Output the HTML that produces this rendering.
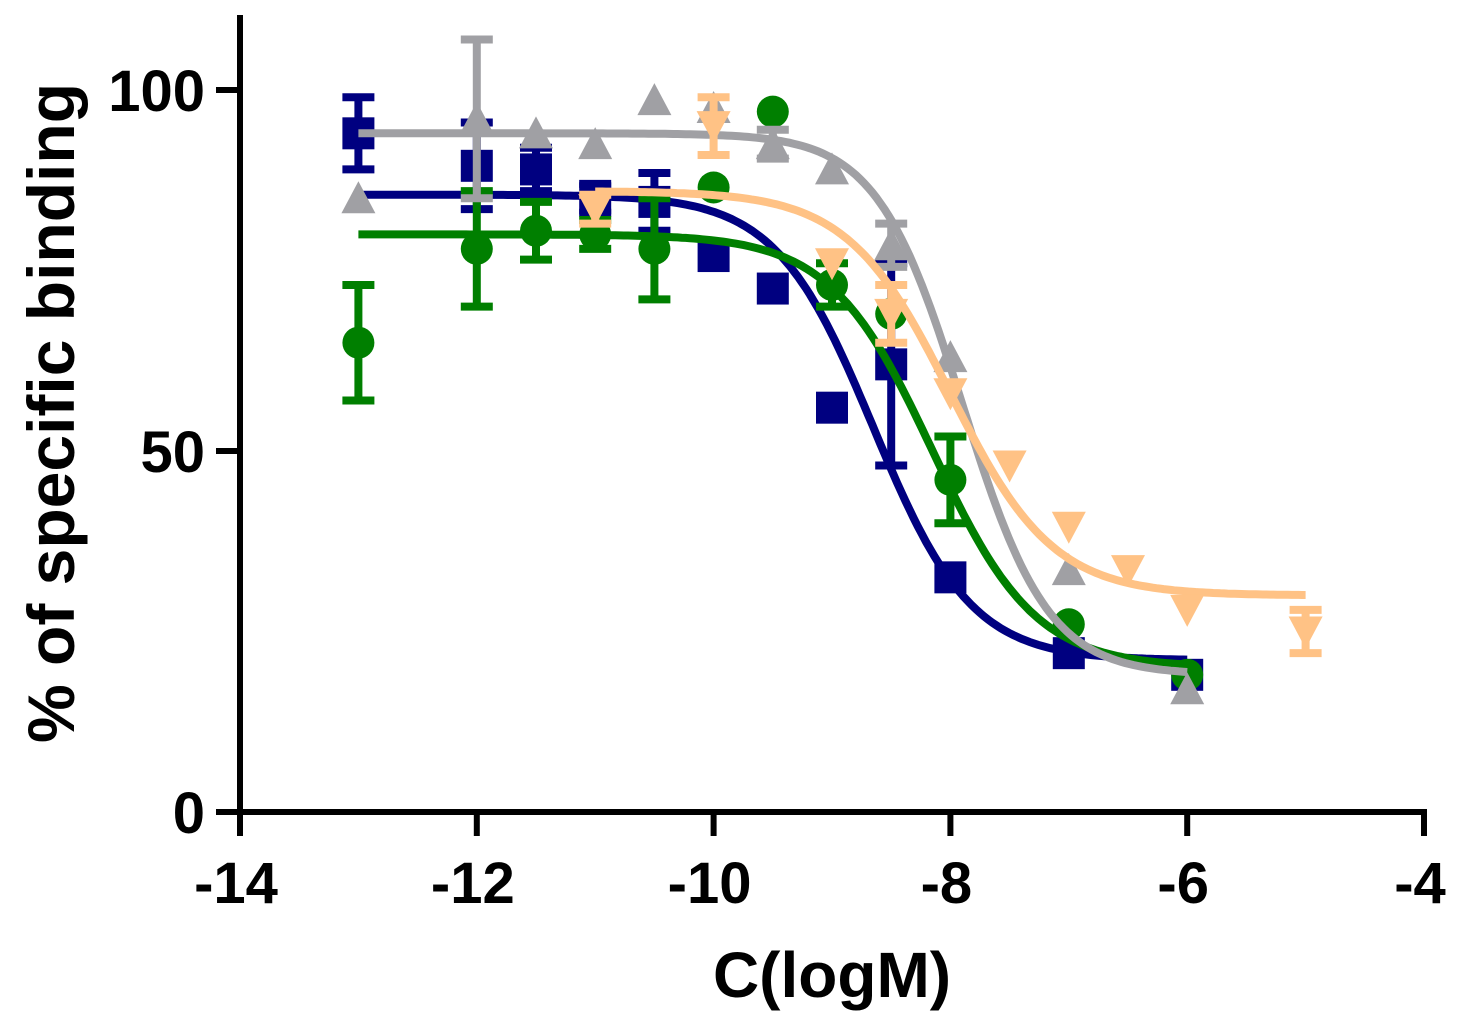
<!DOCTYPE html>
<html><head><meta charset="utf-8"><style>
html,body{margin:0;padding:0;background:#fff;}
svg{display:block;font-family:"Liberation Sans",Arial,sans-serif;font-weight:bold;}
</style></head><body>
<svg id="chart" width="1471" height="1024" viewBox="0 0 1471 1024" xmlns="http://www.w3.org/2000/svg">
<g id="plot"></g>
<g id="axes"></g>
</svg>
<script>
const xTicks = [-14, -12, -10, -8, -6, -4];
const yTicks = [0, 50, 100];

const navyX = [-13, -12, -11.5, -11, -10.5, -10, -9.5, -9, -8.5, -8, -7, -6];
const navyY = [94, 89.5, 89, 85, 84.5, 77, 72.5, 56, 62, 32.5, 22, 19];
const navyErr = [5, 6, 3, 2, 4, 0, 0, 0, 14, 0, 0, 0];
const navyFit = [85.5, 21, -8.65, 1.05]; // top, bottom, logIC50, hill

const greenX = [-13, -12, -11.5, -11, -10.5, -10, -9.5, -9, -8.5, -8, -7, -6];
const greenY = [65, 78, 80.5, 80, 78, 86.5, 97, 73, 69, 46, 26, 19];
const greenErr = [8, 8, 4, 2, 7, 0, 0, 3, 0, 6, 0, 0];
const greenFit = [80, 20, -8.15, 1.0];

const grayX = [-13, -12, -11.5, -11, -10.5, -10, -9.5, -9, -8.5, -8, -7, -6];
const grayY = [85, 96, 94, 92.5, 98.6, 97.5, 92.5, 89, 78.5, 63, 33.5, 17];
const grayErr = [0, 11, 0, 0, 0, 0, 2, 0, 3, 0, 0, 0];
const grayFit = [94, 19, -7.9, 1.2];

const peachX = [-11, -10, -9, -8.5, -8, -7.5, -7, -6.5, -6, -5];
const peachY = [83.5, 95, 76, 69, 58, 48, 39.5, 33.5, 28, 25];
const peachErr = [2, 4, 0, 4, 0, 0, 0, 0, 0, 3];
const peachFit = [86, 30, -8.0, 1.0];

const X0 = 240, X1 = 1424, Y0 = 812, Y1 = 90;
function sx(v){ return X0 + (v - (-14)) / 10 * (X1 - X0); }
function sy(v){ return Y0 - v / 100 * (Y0 - Y1); }
const NS = "http://www.w3.org/2000/svg";
function mk(tag, attrs, parent){
  const e = document.createElementNS(NS, tag);
  for (const k in attrs) e.setAttribute(k, attrs[k]);
  parent.appendChild(e); return e;
}
const plot = document.getElementById('plot');
const axes = document.getElementById('axes');

function sig(p, x){ return p[1] + (p[0]-p[1]) / (1 + Math.pow(10, (x - p[2]) * p[3])); }

function series(name, color, xs, ys, errs, fit, x0, x1, shape){
  const g = mk('g', {}, plot);
  
  
  let d = '';
  for (let i = 0; i <= 200; i++){
    const x = x0 + (x1 - x0) * i / 200;
    d += (i ? 'L' : 'M') + sx(x).toFixed(1) + ',' + sy(sig(fit, x)).toFixed(1);
  }
  const c = mk('path', {d: d, fill: 'none', stroke: color, 'stroke-width': 8}, g);
  
  
  for (let i = 0; i < xs.length; i++){
    const cx = sx(xs[i]), cy = sy(ys[i]);
    if (errs[i] > 0){
      const t = sy(ys[i] + errs[i]), b = sy(ys[i] - errs[i]);
      const eb = mk('path', {d: `M${cx},${t}V${b}M${cx-16},${t}H${cx+16}M${cx-16},${b}H${cx+16}`, stroke: color, 'stroke-width': 8, fill: 'none'}, g);
      
      
    }
    let m;
    if (shape === 'square') m = mk('rect', {x: cx-16, y: cy-16, width: 32, height: 32, fill: color}, g);
    else if (shape === 'circle') m = mk('circle', {cx: cx, cy: cy, r: 16, fill: color}, g);
    else if (shape === 'up') m = mk('path', {d: `M${cx},${cy-17}L${cx+17},${cy+15}L${cx-17},${cy+15}Z`, fill: color}, g);
    else m = mk('path', {d: `M${cx},${cy+17}L${cx+17},${cy-15}L${cx-17},${cy-15}Z`, fill: color}, g);
    
    
  }
}
series('navy', '#000080', navyX, navyY, navyErr, navyFit, -13, -6, 'square');
series('green', '#007f00', greenX, greenY, greenErr, greenFit, -13, -6, 'circle');
series('gray', '#a0a0a4', grayX, grayY, grayErr, grayFit, -13, -6, 'up');
series('peach', '#ffc285', peachX, peachY, peachErr, peachFit, -11, -5, 'down');

const ya = mk('line', {x1: X0, y1: 15, x2: X0, y2: Y0+2, stroke: '#000', 'stroke-width': 6}, axes);


const xa = mk('line', {x1: X0-3, y1: Y0, x2: X1+3, y2: Y0, stroke: '#000', 'stroke-width': 6}, axes);


xTicks.forEach(v => {
  const t = mk('line', {x1: sx(v), y1: Y0, x2: sx(v), y2: Y0+24, stroke: '#000', 'stroke-width': 6}, axes);
  
  
  const l = mk('text', {x: sx(v)-4, y: 903, 'font-size': 58, 'text-anchor': 'middle'}, axes);
  l.textContent = String(v);
  
  
});
yTicks.forEach(v => {
  const t = mk('line', {x1: X0-24, y1: sy(v), x2: X0, y2: sy(v), stroke: '#000', 'stroke-width': 6}, axes);
  
  
  const l = mk('text', {x: 205, y: sy(v)+21, 'font-size': 58, 'text-anchor': 'end'}, axes);
  l.textContent = v;
  
  
});
const xt = mk('text', {x: 832, y: 997, 'font-size': 64, 'text-anchor': 'middle'}, axes);
xt.textContent = 'C(logM)';


const yt = mk('text', {x: 0, y: 0, 'font-size': 66, 'text-anchor': 'middle', transform: 'translate(74,413) rotate(-90)'}, axes);
yt.textContent = '% of specific binding';


</script>
</body></html>
